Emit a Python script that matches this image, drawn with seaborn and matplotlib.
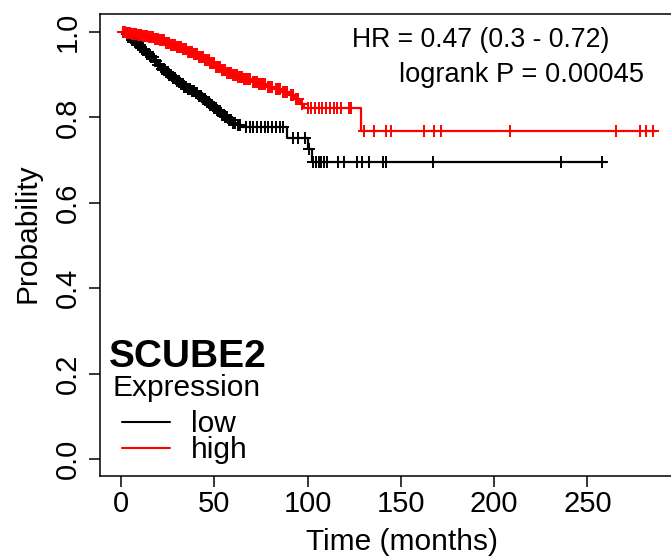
import numpy as np
import pandas as pd
import matplotlib
matplotlib.use("Agg")
import matplotlib.pyplot as plt
import seaborn as sns

# ---------------- data ----------------
groups = ["low", "high"]
colors = {"low": "black", "high": "red"}

low_step_times = [0, 2, 4, 6, 8, 10, 12, 14, 16, 18, 20, 22, 24, 26, 28, 30, 32, 34,
                  36, 38, 40, 42, 44, 46, 48, 50, 52, 54, 56, 58, 60, 62, 65, 89, 100, 102.5]
low_step_surv = [1.0, 0.995, 0.988, 0.98, 0.973, 0.965, 0.957, 0.949, 0.941, 0.932, 0.922,
                 0.913, 0.906, 0.899, 0.892, 0.886, 0.879, 0.872, 0.866, 0.861, 0.856, 0.850,
                 0.843, 0.836, 0.829, 0.822, 0.814, 0.806, 0.800, 0.793, 0.787, 0.782, 0.777,
                 0.752, 0.726, 0.696]
low_end_time = 260

high_step_times = [0, 3, 6, 9, 12, 15, 18, 21, 24, 27, 30, 33, 36, 39, 42, 45, 48, 51, 54,
                   57, 60, 63, 66, 70, 74, 78, 82, 86, 90, 93, 96, 98, 128.5]
high_step_surv = [1.0, 0.997, 0.995, 0.993, 0.991, 0.988, 0.984, 0.980, 0.975, 0.970, 0.965,
                  0.960, 0.954, 0.949, 0.942, 0.934, 0.927, 0.918, 0.910, 0.904, 0.899, 0.894,
                  0.889, 0.882, 0.877, 0.872, 0.866, 0.860, 0.852, 0.843, 0.832, 0.821, 0.769]
high_end_time = 287

low_censor = [3, 4, 5, 6, 7, 8, 9, 10, 11, 12, 13, 14, 15, 16, 17, 18, 19, 20, 21, 22, 23,
              24, 25, 26, 27, 28, 29, 30, 31, 32, 33, 34, 35, 36, 37, 38, 39, 40, 41, 42, 43,
              44, 45, 46, 47, 48, 49, 50, 51, 52, 53, 54, 55, 56, 57, 58, 59, 60, 61, 63, 64,
              67, 69, 71, 73, 75, 77, 79, 81, 83, 85, 87, 92, 95, 98.5, 101, 103, 104.5, 106,
              107.5, 109, 110.5, 116.6, 119.7, 126.8, 129.4, 132.7, 140.5, 141.9, 167.2, 236,
              258]
high_censor = [1, 2, 3, 4, 5, 6, 7, 8, 9, 10, 11, 12, 13, 14, 15, 16, 17, 18, 19, 20, 21, 22,
               23, 24, 25, 26, 27, 28, 29, 30, 31, 32, 33, 34, 35, 36, 37, 38, 39, 40, 41, 42,
               43, 44, 45, 46, 47, 48, 49, 50, 51, 52, 53, 54, 55, 56, 57, 58, 59, 60, 61, 62,
               63, 64, 65, 66, 67, 68, 69, 71, 72, 73, 74, 75, 76, 77, 79, 80, 81, 83, 84, 85,
               87, 88, 89, 91, 92, 94, 95, 97, 100.5, 102, 104, 106, 108, 110, 112, 114, 116,
               118, 122, 123.5, 130.3, 135.7, 141.9, 144.6, 162.4, 167.7, 171.3, 208.7,
               265.5, 278.1, 281.7, 285.3]

x_ticks = [0, 50, 100, 150, 200, 250]
y_ticks = [0.0, 0.2, 0.4, 0.6, 0.8, 1.0]
y_tick_labels = ["0.0", "0.2", "0.4", "0.6", "0.8", "1.0"]

gene = "SCUBE2"
legend_title = "Expression"
hr_text = "HR = 0.47 (0.3 - 0.72)"
p_text = "logrank P = 0.00045"
x_label = "Time (months)"
y_label = "Probability"

# ---------------- build tables ----------------
def curve_df(name, times, surv, end):
    t = list(times) + [end]
    s = list(surv) + [surv[-1]]
    return pd.DataFrame({"time": t, "surv": s, "group": name})

def censor_df(name, times, surv, ctimes):
    times = np.asarray(times, float)
    surv = np.asarray(surv, float)
    idx = np.searchsorted(times, np.asarray(ctimes, float), side="right") - 1
    return pd.DataFrame({"time": ctimes, "surv": surv[idx], "group": name})

curves = pd.concat([
    curve_df("low", low_step_times, low_step_surv, low_end_time),
    curve_df("high", high_step_times, high_step_surv, high_end_time),
], ignore_index=True)
censors = pd.concat([
    censor_df("low", low_step_times, low_step_surv, low_censor),
    censor_df("high", high_step_times, high_step_surv, high_censor),
], ignore_index=True)

# ---------------- figure ----------------
sns.set_theme(style="ticks")
plt.rcParams["font.family"] = ["Liberation Sans", "DejaVu Sans"]
plt.rcParams["text.color"] = "black"
plt.rcParams["axes.labelcolor"] = "black"
plt.rcParams["xtick.color"] = "black"
plt.rcParams["ytick.color"] = "black"

W, H = 671, 558
fig = plt.figure(figsize=(W / 100, H / 100), dpi=100)
ax_l, ax_r, ax_t, ax_b = 99.5, 675.0, 14.0, 476.0
ax = fig.add_axes([ax_l / W, 1 - ax_b / H, (ax_r - ax_l) / W, (ax_b - ax_t) / H])

for g in groups:
    sub = curves[curves.group == g]
    sns.lineplot(data=sub, x="time", y="surv", color=colors[g], drawstyle="steps-post",
                 estimator=None, sort=False, linewidth=1.6, ax=ax, legend=False)
    csub = censors[censors.group == g]
    sns.scatterplot(data=csub, x="time", y="surv", color=colors[g], marker="+",
                    s=70, linewidth=1.4, ax=ax, legend=False, zorder=3)

ax.set_xlim(-11.5, 297.0)
ax.set_ylim(-0.0398, 1.042)
ax.set_xticks(x_ticks)
ax.set_xticklabels([str(v) for v in x_ticks])
ax.set_yticks(y_ticks)
ax.set_yticklabels(y_tick_labels)

for sp in ["left", "top", "bottom", "right"]:
    ax.spines[sp].set_linewidth(1.1)
    ax.spines[sp].set_color("black")

ax.tick_params(axis="both", direction="out", length=8, width=1.1, color="black",
               labelsize=21, labelcolor="black")
ax.tick_params(axis="x", pad=2)
ax.tick_params(axis="y", pad=5, labelrotation=90)
for lab in ax.get_yticklabels():
    lab.set_va("center")

ax.set_xlabel(x_label, fontsize=21.5, color="black")
ax.set_ylabel(y_label, fontsize=21.5, color="black")
ax.xaxis.label.set_va("baseline")
ax.xaxis.set_label_coords((401.5 - ax_l) / (ax_r - ax_l), (ax_b - 550) / (ax_b - ax_t))
ax.yaxis.label.set_va("baseline")
ax.yaxis.set_label_coords((35 - ax_l) / (ax_r - ax_l), (ax_b - 233) / (ax_b - ax_t))

# annotations (figure pixel positions)
def fx(x):
    return x / W

def fy(y):
    return 1 - y / H

fig.text(fx(352), fy(47), hr_text, fontsize=19.2, ha="left", va="baseline", color="black")
fig.text(fx(399), fy(82), p_text, fontsize=19.6, ha="left", va="baseline", color="black")

fig.text(fx(109), fy(367), gene, fontsize=28, fontweight="bold", ha="left", va="baseline",
         color="black")
fig.text(fx(112), fy(396), legend_title, fontsize=21.5, ha="left", va="baseline", color="black")
for g, yl, yt in [("low", 422, 432), ("high", 448, 458)]:
    fig.add_artist(plt.Line2D([fx(122), fx(170)], [fy(yl), fy(yl)], color=colors[g],
                              linewidth=1.5, transform=fig.transFigure))
    fig.text(fx(191), fy(yt), g, fontsize=21.5, ha="left", va="baseline", color="black")

fig.savefig("out.png", dpi=100)
